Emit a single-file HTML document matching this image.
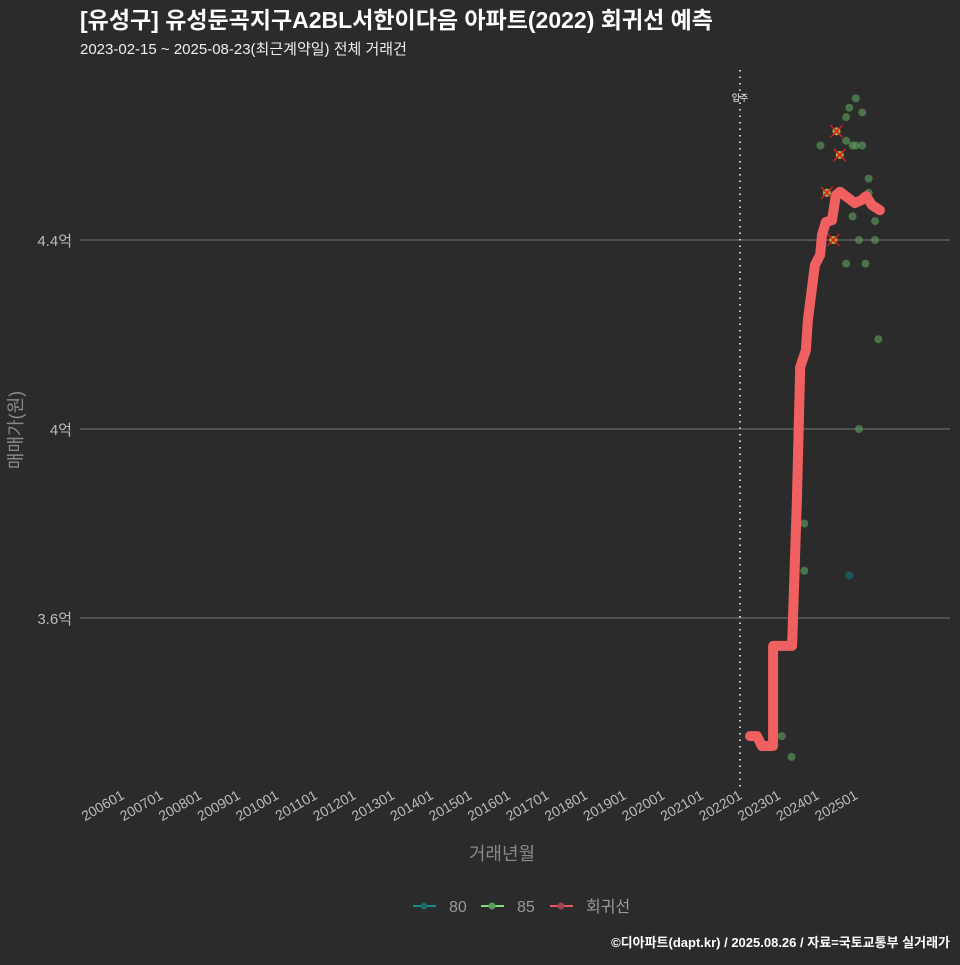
<!DOCTYPE html>
<html><head><meta charset="utf-8"><style>
body{margin:0;background:#2b2b2b;}
svg text{font-family:"Liberation Sans","Noto Sans CJK KR",sans-serif;}
</style></head><body>
<svg id="chart" width="960" height="960" xmlns="http://www.w3.org/2000/svg">
<rect width="960" height="960" fill="#2b2b2b"/>
<text x="80" y="28" font-size="23" font-weight="bold" fill="#fff">[유성구] 유성둔곡지구A2BL서한이다음 아파트(2022) 회귀선 예측</text>
<text x="80" y="54" font-size="15" fill="#eee">2023-02-15 ~ 2025-08-23(최근계약일) 전체 거래건</text>
<g id="grid"></g><g id="xaxis"></g><g id="marks"></g>
<text x="502" y="860" font-size="18" fill="#888" text-anchor="middle">거래년월</text>
<text transform="translate(22,430) rotate(-90)" font-size="18" fill="#888" text-anchor="middle">매매가(원)</text>
<g>
<g><line x1="413" y1="906" x2="436" y2="906" stroke="#1a8a8a" stroke-width="2"/><circle cx="424" cy="906" r="3.5" fill="#1a6a6a"/><text x="449" y="912" font-size="16" fill="#999">80</text></g>
<g><line x1="481" y1="906" x2="504" y2="906" stroke="#7ce07c" stroke-width="2"/><circle cx="492" cy="906" r="3.5" fill="#5a9a5a"/><text x="517" y="912" font-size="16" fill="#999">85</text></g>
<g><line x1="550" y1="906" x2="573" y2="906" stroke="#e85a60" stroke-width="2"/><circle cx="561" cy="906" r="3.5" fill="#a04050"/><text x="586" y="912" font-size="16" fill="#999">회귀선</text></g>
</g>
<text x="950" y="947" font-size="13" font-weight="bold" fill="#fff" text-anchor="end">©디아파트(dapt.kr) / 2025.08.26 / 자료=국토교통부 실거래가</text>
</svg>
<script>
const yTicks=[3.6,4.0,4.4];
const yTickLabels=["3.6억","4억","4.4억"];
const xTickLabels=["200601","200701","200801","200901","201001","201101","201201","201301","201401","201501","201601","201701","201801","201901","202001","202101","202201","202301","202401","202501"];
const moveInMonth=192;
// months since 2006-01
const pts85M=[205,208,212,212,217,219,225,226,228,230,225,227,228,230,232,232,234,225,231,229,234,235,229,227];
const pts85V=[3.35,3.306,3.80,3.70,4.60,4.50,4.66,4.68,4.70,4.67,4.61,4.60,4.60,4.60,4.53,4.50,4.44,4.35,4.35,4.40,4.40,4.19,4.00,4.45];
const pts80M=[226];
const pts80V=[3.69];
const crossM=[219,222,223,221];
const crossV=[4.50,4.63,4.58,4.40];
const lineM=[195.1,197.3,198.8,202.3,202.3,208.2,209.7,210.7,212.5,213.1,215.3,216.9,217.5,218.7,220.6,221.8,223.1,225.6,227.7,229.9,231.2,233,235.5];
const lineV=[3.350,3.350,3.329,3.329,3.541,3.541,3.850,4.131,4.167,4.231,4.347,4.368,4.411,4.438,4.442,4.495,4.502,4.489,4.478,4.485,4.493,4.474,4.463];
const NS="http://www.w3.org/2000/svg";
const xS=m=>740+(m-192)*38.6/12;
const yS=v=>240-(v-4.4)*472.5;
function mk(t,a,p){const e=document.createElementNS(NS,t);for(const k in a)e.setAttribute(k,a[k]);p.appendChild(e);return e;}
const grid=document.getElementById('grid'),xa=document.getElementById('xaxis'),mg=document.getElementById('marks');
yTicks.forEach((v,i)=>{
 const l=mk('line',{x1:80,x2:950,y1:yS(v),y2:yS(v),stroke:'#777','stroke-width':1},grid);
 
 
 const t=mk('text',{x:72,y:yS(v)+6,'font-size':15,fill:'#bbb','text-anchor':'end'},grid);
 t.textContent=yTickLabels[i];
 
 
});
xTickLabels.forEach((s,i)=>{
 const x=xS(i*12);
 const t=mk('text',{transform:`translate(${x+3},${798}) rotate(-30)`,'font-size':14,fill:'#bbb','text-anchor':'end'},xa);
 t.textContent=s;
 
 
});
const ml=mk('line',{x1:xS(moveInMonth),x2:xS(moveInMonth),y1:70,y2:790,stroke:'#ccc','stroke-width':2,'stroke-dasharray':'1.5 5'},mg);


const mt=mk('text',{x:xS(moveInMonth),y:101,'font-size':9,fill:'#fff','text-anchor':'middle'},mg);
mt.textContent='입주';


pts80M.forEach((m,i)=>{const c=mk('circle',{cx:xS(m),cy:yS(pts80V[i]),r:4,fill:'#1a6a6a','fill-opacity':0.7},mg);
 
 });
pts85M.forEach((m,i)=>{const c=mk('circle',{cx:xS(m),cy:yS(pts85V[i]),r:4,fill:'#5a9a5a','fill-opacity':0.65},mg);
 
 });
crossM.forEach((m,i)=>{const x=xS(m),y=yS(crossV[i]);
 const c=mk('circle',{cx:x,cy:y,r:4,fill:'#b8a040'},mg);
 
 
 const p=mk('path',{d:`M${x-6} ${y-6}L${x+6} ${y+6}M${x+6} ${y-6}L${x-6} ${y+6}`,stroke:'#d02020','stroke-width':1.5},mg);
 
 });
const d=lineM.map((m,i)=>(i?'L':'M')+xS(m).toFixed(1)+' '+yS(lineV[i]).toFixed(1)).join('');
const rl=mk('path',{d:d,fill:'none',stroke:'#f06060','stroke-width':10,'stroke-linecap':'round','stroke-linejoin':'round'},mg);


</script>
</body></html>
